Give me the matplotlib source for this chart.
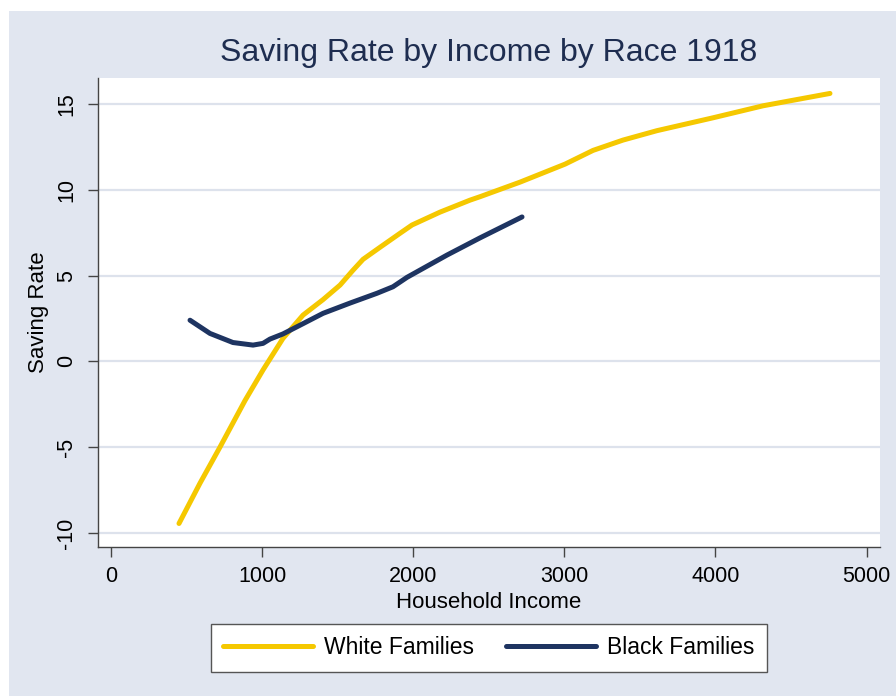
import matplotlib.pyplot as plt
from matplotlib.patches import Rectangle

plt.rcParams['font.family'] = ['Liberation Sans', 'DejaVu Sans']

# values
white_income = [450, 589, 721, 887, 1006, 1138, 1271, 1403, 1516, 1600, 1668, 1780, 1913, 1992,
                2177, 2376, 2442, 2707, 3005, 3190, 3388, 3613, 3984, 4315, 4758]
white_rate = [-9.45, -7.1, -5.0, -2.28, -0.5, 1.34, 2.7, 3.6, 4.45, 5.3, 5.95, 6.65, 7.47, 7.95,
              8.7, 9.4, 9.6, 10.45, 11.5, 12.3, 12.9, 13.45, 14.2, 14.9, 15.62]

black_income = [523, 655, 807, 940, 1006, 1052, 1138, 1271, 1403, 1582, 1760, 1866,
                1959, 2224, 2442, 2720]
black_rate = [2.4, 1.63, 1.1, 0.95, 1.05, 1.3, 1.6, 2.2, 2.8, 3.4, 3.97, 4.35,
              4.9, 6.2, 7.2, 8.42]

x_ticks = [0, 1000, 2000, 3000, 4000, 5000]
y_ticks = [-10, -5, 0, 5, 10, 15]

yellow = '#f5c800'
navy = '#1e3461'
panel = '#e1e6f0'

fig = plt.figure(figsize=(8.96, 6.96), dpi=100, facecolor='white')
fig.patches.append(Rectangle((9 / 896, 0), 1, 1 - 11 / 696, transform=fig.transFigure,
                             facecolor=panel, edgecolor='none', zorder=-10))

ax = fig.add_axes([98 / 896, 1 - 547 / 696, 782 / 896, 469 / 696])
ax.set_facecolor('white')

ax.plot(white_income, white_rate, color=yellow, lw=3.6, solid_capstyle='round',
        label='White Families')
ax.plot(black_income, black_rate, color=navy, lw=3.6, solid_capstyle='round',
        label='Black Families')

ax.set_xlim(-86, 5089)
ax.set_ylim(-10.82, 16.52)
ax.set_xticks(x_ticks)
ax.set_yticks(y_ticks)
ax.set_yticklabels([str(v) for v in y_ticks], rotation=90, va='center')
ax.tick_params(axis='both', labelsize=15.5, length=7, width=1, color='#444444')
ax.tick_params(axis='x', pad=7)
ax.tick_params(axis='y', pad=8)

for s in ['top', 'right']:
    ax.spines[s].set_visible(False)
for s in ['left', 'bottom']:
    ax.spines[s].set_color('#444444')
    ax.spines[s].set_linewidth(1)

ax.grid(axis='y', color='#dde2ec', lw=1.6)
ax.set_axisbelow(True)

ax.set_xlabel('Household Income', fontsize=16, labelpad=3)
ax.set_ylabel('Saving Rate', fontsize=16, labelpad=5)

fig.text(489 / 896, 1 - 53 / 696, 'Saving Rate by Income by Race 1918', fontsize=23,
         color='#1e2d50', ha='center', va='center')

leg = fig.legend(loc='center', bbox_to_anchor=(489 / 896, 1 - 648 / 696), ncol=2,
                 fontsize=16.5, handlelength=3.9, handletextpad=0.5, columnspacing=1.4,
                 borderpad=0.55, fancybox=False, framealpha=1)
leg.get_frame().set_edgecolor('#555555')
leg.get_frame().set_linewidth(1)

fig.savefig('out.png', dpi=100, facecolor=fig.get_facecolor())
